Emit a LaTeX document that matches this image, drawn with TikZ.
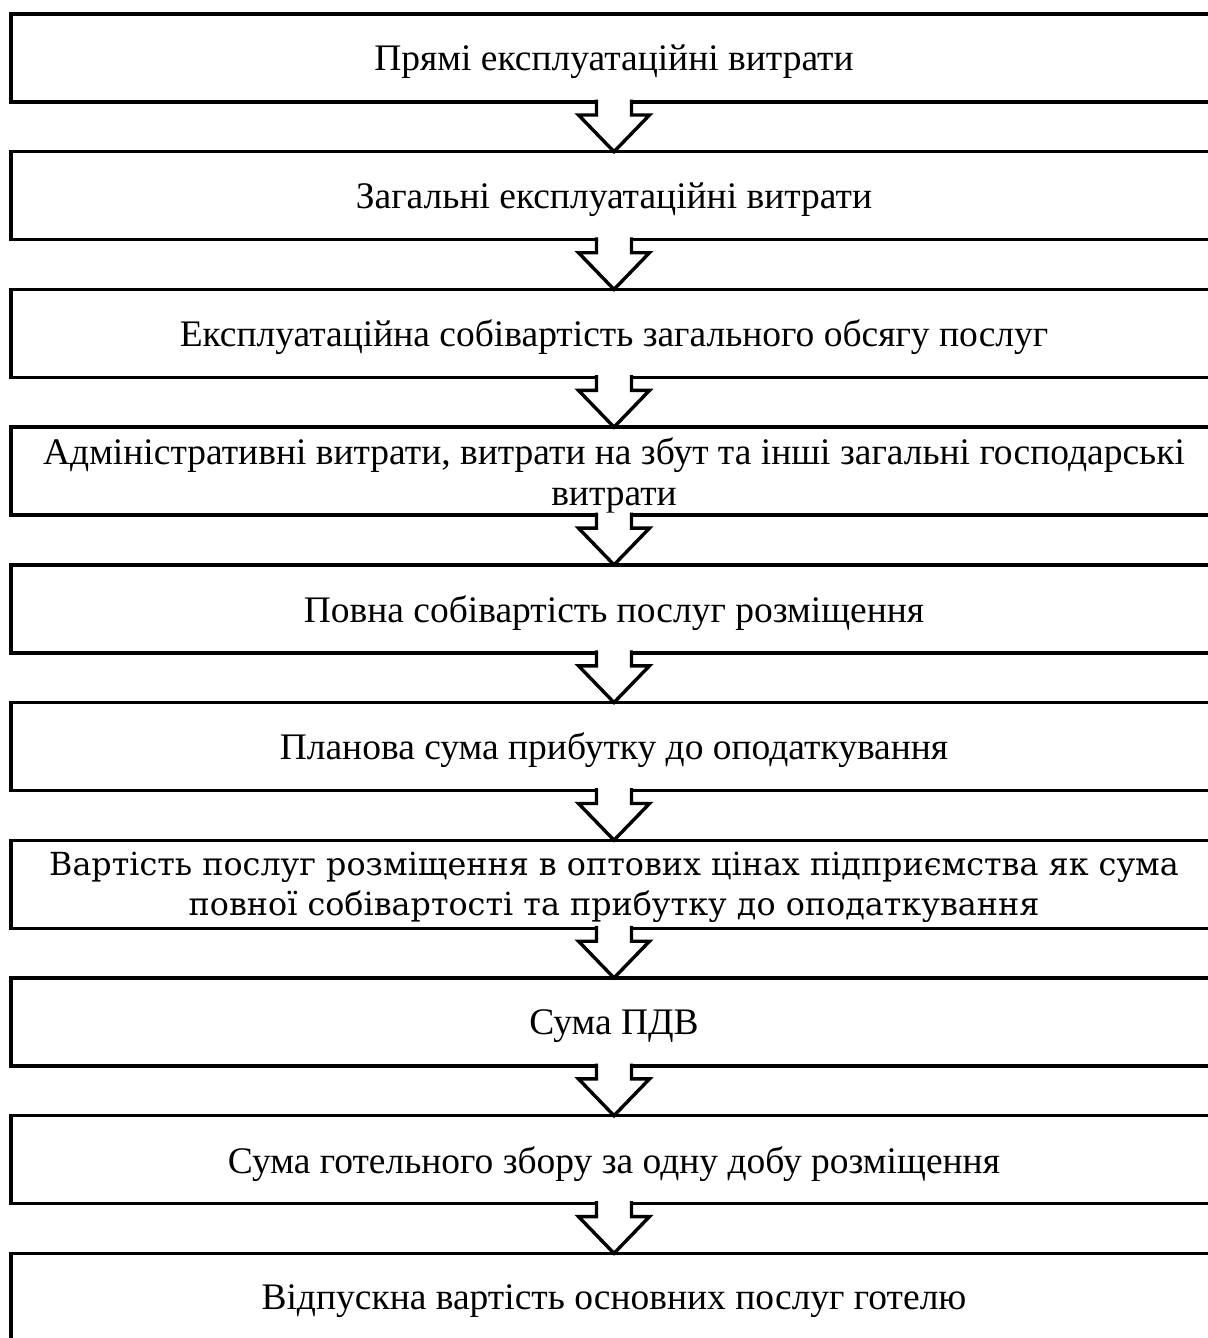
\documentclass[tikz,border=0pt]{standalone}
\usepackage{fontspec}
\setmainfont{Liberation Serif}
\newfontfamily\altserif{DejaVu Serif}
\usepackage{tikz}
\usetikzlibrary{calc}
\newcommand{\stagefont}{\fontsize{18.75}{20.5}\selectfont}
\newcommand{\stagealtfont}{\altserif\fontsize{15.9}{20}\selectfont}
\tikzset{
  stage/.style={draw=black,line width=1.7pt,minimum width=603pt,minimum height=44pt,
    inner sep=0pt,outer sep=0pt,align=center,text depth=0pt,font=\stagefont},
  stagealt/.style={stage,font=\stagealtfont},
  blockflow/.style={draw=black,fill=white,line width=1.7pt,line join=miter,
    to path={($(\tikztostart.south)+(-17.5,-2.4)$) -- ($(\tikztostart.south)+(-17.5,13)$)
      -- ($(\tikztostart.south)+(-35.5,13)$) -- (\tikztotarget.north)
      -- ($(\tikztostart.south)+(35.5,13)$) -- ($(\tikztostart.south)+(17.5,13)$)
      -- ($(\tikztostart.south)+(17.5,-2.4)$)}}
}
\begin{document}
\begin{tikzpicture}[x=0.5pt,y=-0.5pt]
  \useasboundingbox (0,0) rectangle (1208,1338);
  \clip (0,0) rectangle (1208,1338);

  \node[stage] (direct) at (614,58) {Прямі експлуатаційні витрати};
  \node[stage] (general) at (614,195.7) {Загальні експлуатаційні витрати};
  \node[stage] (opcost) at (614,333.4) {Експлуатаційна собівартість загального обсягу послуг};
  \node[stage] (admin) at (614,471.1) {Адміністративні витрати, витрати на збут та інші загальні господарські\\витрати};
  \node[stage] (fullcost) at (614,608.8) {Повна собівартість послуг розміщення};
  \node[stage] (profit) at (614,746.5) {Планова сума прибутку до оподаткування};
  \node[stagealt] (wholesale) at (614,884.2) {Вартість послуг розміщення в оптових цінах підприємства як сума\\повної собівартості та прибутку до оподаткування};
  \node[stage] (vat) at (614,1021.9) {Сума ПДВ};
  \node[stage] (levy) at (614,1159.6) {Сума готельного збору за одну добу розміщення};
  \node[stage] (retail) at (614,1297.3) {Відпускна вартість основних послуг готелю};

  \draw[blockflow] (direct) to (general);
  \draw[blockflow] (general) to (opcost);
  \draw[blockflow] (opcost) to (admin);
  \draw[blockflow] (admin) to (fullcost);
  \draw[blockflow] (fullcost) to (profit);
  \draw[blockflow] (profit) to (wholesale);
  \draw[blockflow] (wholesale) to (vat);
  \draw[blockflow] (vat) to (levy);
  \draw[blockflow] (levy) to (retail);
\end{tikzpicture}
\end{document}
